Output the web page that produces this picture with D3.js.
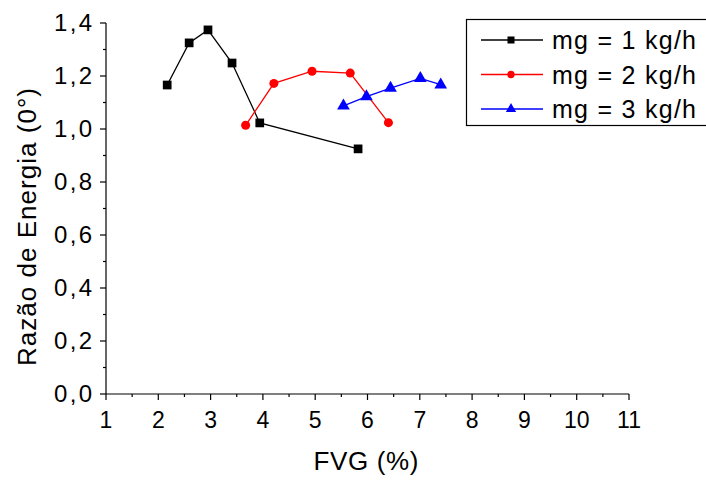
<!DOCTYPE html>
<html>
<head>
<meta charset="utf-8">
<script src="https://cdn.jsdelivr.net/npm/d3@7"></script>
<style>
  html, body { margin: 0; padding: 0; background: #fff; }
  svg { display: block; }
  text { font-family: "Liberation Sans", Arial, sans-serif; fill: #000; }
</style>
</head>
<body>
<svg id="chart" width="706" height="482"></svg>
<script>
// ---- data ----
const seriesNames = ["mg = 1 kg/h", "mg = 2 kg/h", "mg = 3 kg/h"];
const s1x = [2.17, 2.59, 2.95, 3.41, 3.94, 5.82];
const s1y = [1.166, 1.325, 1.374, 1.249, 1.023, 0.925];
const s2x = [3.67, 4.21, 4.94, 5.67, 6.40];
const s2y = [1.014, 1.172, 1.218, 1.211, 1.024];
const s3x = [5.54, 5.98, 6.44, 7.01, 7.40];
const s3y = [1.087, 1.122, 1.154, 1.191, 1.167];
const xTicks = [1, 2, 3, 4, 5, 6, 7, 8, 9, 10, 11];
const yTicks = [0, 0.2, 0.4, 0.6, 0.8, 1.0, 1.2, 1.4];
const xLabel = "FVG (%)";
const yLabel = "Razão de Energia (0°)";

// ---- styles ----
const colors = ["#000000", "#ff0000", "#0000ff"];
const symbols = [d3.symbolSquare, d3.symbolCircle, d3.symbolTriangle];
const symSizes = [76, 64, 70];

const svg = d3.select("#chart");
const x = d3.scaleLinear().domain([1, 11]).range([106, 629]);
const y = d3.scaleLinear().domain([0, 1.4]).range([394, 23]);

const fmt = v => d3.format(".1f")(v).replace(".", ",");

// minor ticks
const xMinor = d3.range(1.5, 11, 1);
const yMinor = d3.range(0.1, 1.4, 0.2);

const gx = svg.append("g").attr("transform", `translate(0,${y(0)})`);
gx.append("line").attr("x1", x(1)).attr("x2", x(11)).attr("stroke", "#000").attr("stroke-width", 1.2);
gx.selectAll(".maj").data(xTicks).enter().append("line")
  .attr("x1", d => x(d)).attr("x2", d => x(d)).attr("y1", 0).attr("y2", 6)
  .attr("stroke", "#000").attr("stroke-width", 1.2);
gx.selectAll(".min").data(xMinor).enter().append("line")
  .attr("x1", d => x(d)).attr("x2", d => x(d)).attr("y1", 0).attr("y2", 3)
  .attr("stroke", "#000").attr("stroke-width", 1.2);
gx.selectAll("text").data(xTicks).enter().append("text")
  .attr("x", d => x(d)).attr("y", 34).attr("text-anchor", "middle")
  .attr("font-size", 23).text(d => d);

const gy = svg.append("g").attr("transform", `translate(${x(1)},0)`);
gy.append("line").attr("y1", y(0)).attr("y2", y(1.4)).attr("stroke", "#000").attr("stroke-width", 1.2);
gy.selectAll(".maj").data(yTicks).enter().append("line")
  .attr("y1", d => y(d)).attr("y2", d => y(d)).attr("x1", 0).attr("x2", -6)
  .attr("stroke", "#000").attr("stroke-width", 1.2);
gy.selectAll(".min").data(yMinor).enter().append("line")
  .attr("y1", d => y(d)).attr("y2", d => y(d)).attr("x1", 0).attr("x2", -3)
  .attr("stroke", "#000").attr("stroke-width", 1.2);
gy.selectAll("text").data(yTicks).enter().append("text")
  .attr("x", -14).attr("y", d => y(d) + 8).attr("text-anchor", "end")
  .attr("font-size", 24).attr("textLength", 38).attr("lengthAdjust", "spacing")
  .text(d => fmt(d));

// axis titles
svg.append("text").attr("x", 366).attr("y", 470).attr("text-anchor", "middle")
  .attr("font-size", 26).attr("textLength", 105).attr("lengthAdjust", "spacing")
  .text(xLabel);
svg.append("text").attr("transform", "translate(36,227) rotate(-90)")
  .attr("text-anchor", "middle").attr("font-size", 26)
  .attr("textLength", 278).attr("lengthAdjust", "spacing")
  .text(yLabel);

// series
const series = [
  { xs: s1x, ys: s1y },
  { xs: s2x, ys: s2y },
  { xs: s3x, ys: s3y }
];
const line = d3.line().x(d => x(d[0])).y(d => y(d[1]));
series.forEach((s, i) => {
  const pts = s.xs.map((v, j) => [v, s.ys[j]]);
  svg.append("path").datum(pts).attr("d", line)
    .attr("fill", "none").attr("stroke", colors[i]).attr("stroke-width", 1.3);
  svg.selectAll(null).data(pts).enter().append("path")
    .attr("d", d3.symbol().type(symbols[i]).size(symSizes[i]))
    .attr("transform", d => `translate(${x(d[0])},${y(d[1])})`)
    .attr("fill", colors[i]);
});

// legend
const lg = svg.append("g");
lg.append("rect").attr("x", 466.5).attr("y", 19.5).attr("width", 250).attr("height", 106)
  .attr("fill", "none").attr("stroke", "#000").attr("stroke-width", 1.2);
const rowsY = [40, 74.5, 109];
seriesNames.forEach((name, i) => {
  lg.append("line").attr("x1", 481).attr("x2", 543).attr("y1", rowsY[i]).attr("y2", rowsY[i])
    .attr("stroke", colors[i]).attr("stroke-width", 1.3);
  lg.append("path").attr("d", d3.symbol().type(symbols[i]).size(symSizes[i] * 0.65))
    .attr("transform", `translate(511,${rowsY[i]})`).attr("fill", colors[i]);
  lg.append("text").attr("x", 552).attr("y", rowsY[i] + 9).attr("font-size", 25)
    .attr("textLength", 144).attr("lengthAdjust", "spacing").text(name);
});
</script>
</body>
</html>
